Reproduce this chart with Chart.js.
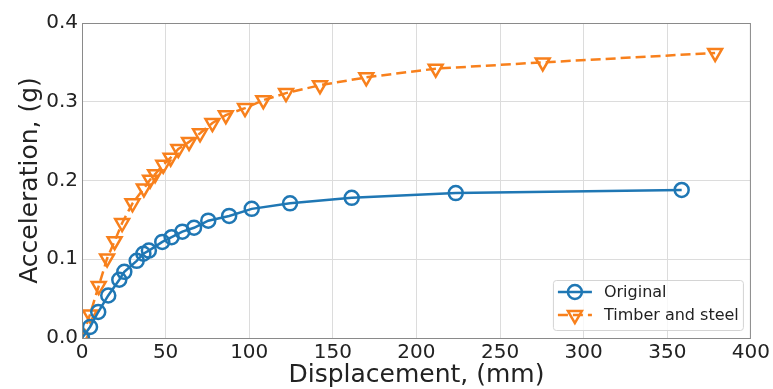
<!DOCTYPE html>
<html>
<head>
<meta charset="utf-8">
<script src="https://cdn.jsdelivr.net/npm/chart.js@4/dist/chart.umd.min.js"></script>
<style>
  html, body { margin: 0; padding: 0; background: #fff; }
  #wrap { width: 773px; height: 389px; position: relative; }
</style>
</head>
<body>
<div id="wrap"><canvas id="chart"></canvas></div>
<script>
// values
const originalX = [0, 4.8, 9.7, 15.7, 22.3, 25.3, 32.7, 36.7, 40, 48, 53.6, 60, 67, 75.5, 88, 101.5, 124.4, 161.3, 223.5, 358.6];
const originalY = [0, 0.014, 0.033, 0.054, 0.074, 0.084, 0.098, 0.107, 0.111, 0.122, 0.128, 0.135, 0.140, 0.149, 0.155, 0.164, 0.171, 0.178, 0.184, 0.188];

const timberX = [0, 4.8, 10, 15, 19.5, 24, 30.2, 37, 40.7, 43.7, 48.6, 53, 57.6, 64, 70.6, 78, 86, 97.5, 108.4, 122, 142.3, 170, 211.5, 275.5, 378.6];
const timberY = [0, 0.030, 0.066, 0.101, 0.123, 0.146, 0.171, 0.190, 0.201, 0.208, 0.220, 0.229, 0.240, 0.249, 0.260, 0.273, 0.283, 0.292, 0.302, 0.311, 0.321, 0.331, 0.342, 0.350, 0.362];

const xTicks = [0, 50, 100, 150, 200, 250, 300, 350, 400];
const yTicks = [0.0, 0.1, 0.2, 0.3, 0.4];

const FONT = "'DejaVu Sans', sans-serif";
const BLUE = '#1f77b4';
const ORANGE = '#f8801c';

const toPoints = (xs, ys) => xs.map((x, i) => ({ x, y: ys[i] }));

// matplotlib style frame around the axes
const framePlugin = {
  id: 'frame',
  afterDatasetsDraw(chart) {
    const { ctx, chartArea: a } = chart;
    ctx.save();
    ctx.strokeStyle = '#8a8a8a';
    ctx.lineWidth = 1;
    ctx.strokeRect(a.left + 0.5, a.top + 0.5, a.right - a.left - 1, a.bottom - a.top);
    ctx.restore();
  }
};

// legend drawn inside the plot, lower right
const innerLegend = {
  id: 'innerLegend',
  afterDraw(chart) {
    const { ctx, chartArea: a } = chart;
    const w = 190, h = 50;
    const x = a.right - 8 - w, y = a.bottom - 8 - h;
    ctx.save();
    ctx.fillStyle = 'rgba(255,255,255,0.8)';
    ctx.strokeStyle = '#d4d4d4';
    ctx.lineWidth = 1;
    ctx.beginPath();
    ctx.roundRect(x + 0.5, y + 0.5, w, h, 3);
    ctx.fill();
    ctx.stroke();

    chart.data.datasets.forEach((ds, i) => {
      const cy = y + 12 + i * 23;
      const lx0 = x + 5, lx1 = x + 39, mx = (lx0 + lx1) / 2;
      ctx.strokeStyle = ds.borderColor;
      ctx.lineWidth = ds.borderWidth;
      ctx.setLineDash(ds.borderDash || []);
      ctx.beginPath();
      ctx.moveTo(lx0, cy);
      ctx.lineTo(lx1, cy);
      ctx.stroke();
      ctx.setLineDash([]);
      ctx.lineWidth = ds.pointBorderWidth;
      ctx.fillStyle = 'rgba(0,0,0,0)';
      Chart.helpers.drawPoint(ctx, {
        pointStyle: ds.pointStyle,
        rotation: ds.pointRotation || 0,
        radius: ds.pointRadius,
        borderWidth: ds.pointBorderWidth
      }, mx, cy);
      ctx.fillStyle = '#222';
      ctx.font = '16px ' + FONT;
      ctx.textBaseline = 'middle';
      ctx.fillText(ds.label, x + 51, cy + 1);
    });
    ctx.restore();
  }
};

new Chart(document.getElementById('chart'), {
  type: 'scatter',
  data: {
    datasets: [
      {
        label: 'Original',
        data: toPoints(originalX, originalY),
        showLine: true,
        borderColor: BLUE,
        borderWidth: 2.5,
        pointStyle: 'circle',
        pointRadius: 7,
        pointBorderWidth: 2.5,
        pointBorderColor: BLUE,
        pointBackgroundColor: 'rgba(0,0,0,0)',
        backgroundColor: 'rgba(0,0,0,0)',
      },
      {
        label: 'Timber and steel',
        data: toPoints(timberX, timberY),
        showLine: true,
        borderColor: ORANGE,
        borderWidth: 2.5,
        borderDash: [10, 5],
        pointStyle: 'triangle',
        pointRotation: 180,
        pointRadius: 8,
        pointBorderWidth: 2.5,
        pointBorderColor: ORANGE,
        pointBackgroundColor: 'rgba(0,0,0,0)',
        backgroundColor: 'rgba(0,0,0,0)',
      },
    ],
  },
  options: {
    responsive: true,
    maintainAspectRatio: false,
    animation: false,
    layout: { padding: { left: 0, right: 22, top: 23, bottom: 0 } },
    plugins: {
      legend: { display: false },
      tooltip: { enabled: false },
    },
    scales: {
      x: {
        type: 'linear',
        min: 0,
        max: 400,
        afterFit(scale) { scale.height = 51; },
        afterBuildTicks(scale) { scale.ticks = xTicks.map(v => ({ value: v })); },
        ticks: { color: '#222', font: { family: FONT, size: 20 }, padding: 3, maxRotation: 0 },
        grid: { color: '#dcdcdc', drawTicks: false },
        border: { display: false },
        title: { display: true, text: 'Displacement, (mm)', color: '#222', font: { family: FONT, size: 25, lineHeight: 1.0 }, padding: { top: 0, bottom: 1 } },
      },
      y: {
        type: 'linear',
        min: 0,
        max: 0.4,
        afterFit(scale) { scale.width = 82; },
        afterBuildTicks(scale) { scale.ticks = yTicks.map(v => ({ value: v })); },
        ticks: { color: '#222', font: { family: FONT, size: 20 }, padding: 4, callback: v => v.toFixed(1) },
        grid: { color: '#dcdcdc', drawTicks: false },
        border: { display: false },
        title: { display: true, text: 'Acceleration, (g)', color: '#222', font: { family: FONT, size: 25, lineHeight: 1.0 }, padding: { top: 18, bottom: 0 } },
      },
    },
  },
  plugins: [framePlugin, innerLegend],
});
</script>
</body>
</html>
